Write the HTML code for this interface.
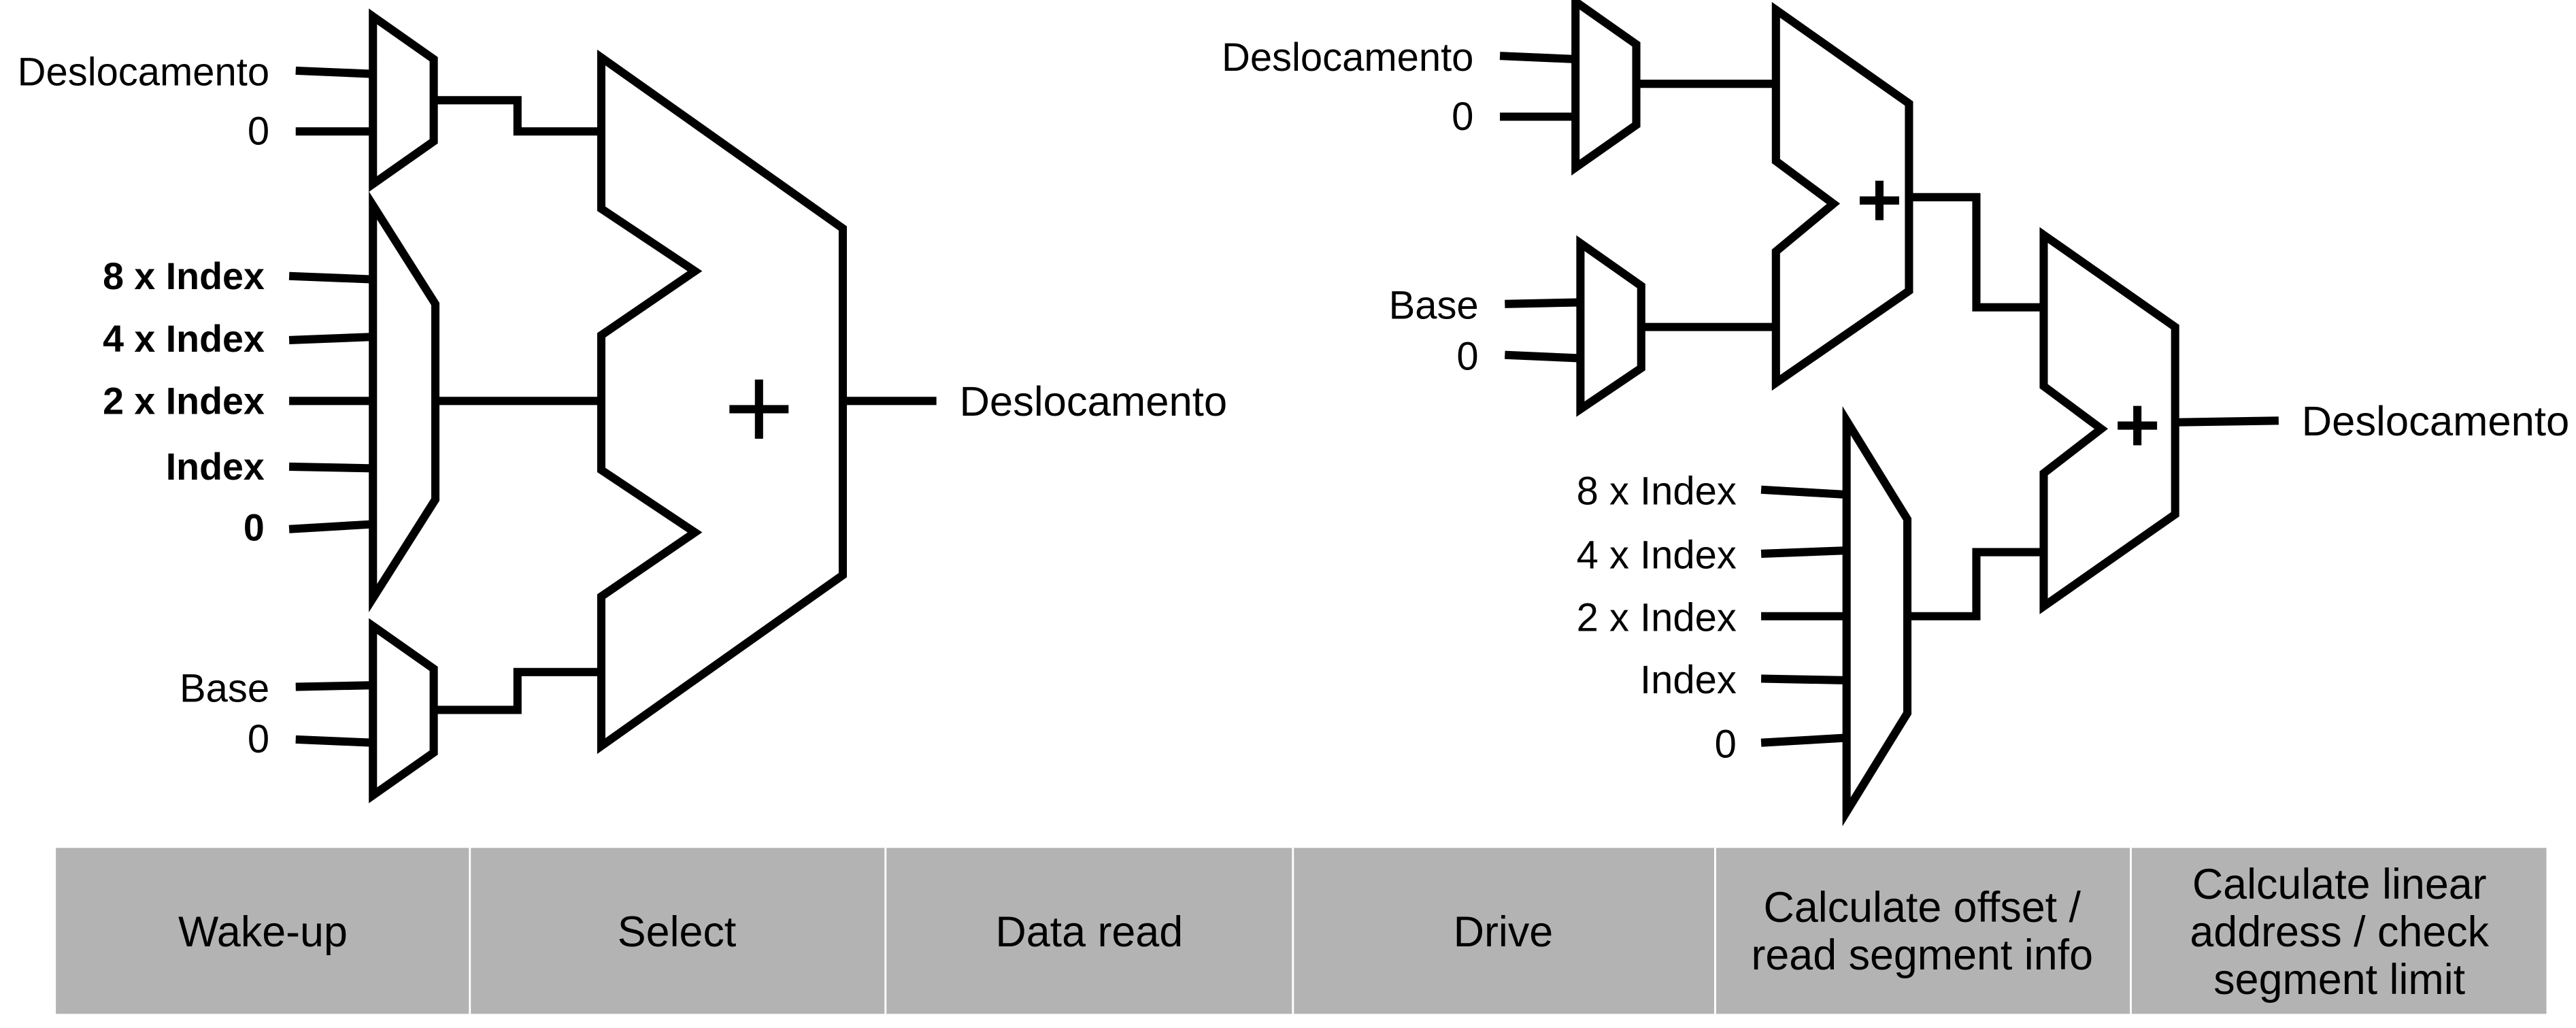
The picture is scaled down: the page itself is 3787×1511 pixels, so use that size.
<!DOCTYPE html>
<html><head><meta charset="utf-8"><style>
html,body{margin:0;padding:0;background:#fff;}
svg{display:block;}
text{font-family:"Liberation Sans",sans-serif;fill:#000;}
</style></head><body>
<svg width="3787" height="1511" viewBox="0 0 1568 625.6" preserveAspectRatio="none" xmlns="http://www.w3.org/2000/svg">
<g fill="none" stroke="#000" stroke-width="5" stroke-linejoin="miter">
<!-- Left diagram -->
<polygon points="227,10 264,36 264,86 227,112"/>
<line x1="180" y1="43" x2="227" y2="45"/>
<line x1="180" y1="80" x2="227" y2="80"/>
<polyline points="264,61 315,61 315,80 366,80"/>
<polygon points="366,35 513,139 513,350 366,454 366,363 423,324 366,286 366,204 423,165 366,127"/>
<line x1="513" y1="244" x2="570" y2="244"/>
<polygon points="227,125 265,185 265,304 227,364"/>
<line x1="176" y1="168" x2="227" y2="170"/>
<line x1="176" y1="207" x2="227" y2="205"/>
<line x1="176" y1="244" x2="227" y2="244"/>
<line x1="176" y1="284" x2="227" y2="285"/>
<line x1="176" y1="322" x2="227" y2="319"/>
<line x1="265" y1="244" x2="366" y2="244"/>
<polygon points="227,381 264,407 264,458 227,484"/>
<line x1="180" y1="418" x2="227" y2="417"/>
<line x1="180" y1="450" x2="227" y2="452"/>
<polyline points="264,432 315,432 315,409 366,409"/>
<line x1="444" y1="249" x2="480" y2="249"/>
<line x1="462" y1="231" x2="462" y2="267"/>
<!-- Right diagram -->
<polygon points="959,1 996,27 996,76 959,102"/>
<line x1="913" y1="34" x2="959" y2="36"/>
<line x1="913" y1="71" x2="959" y2="71"/>
<line x1="996" y1="51" x2="1081" y2="51"/>
<polygon points="1081,6 1162,63 1162,177 1081,233 1081,153 1116,124 1081,98"/>
<line x1="1132" y1="122" x2="1156" y2="122"/>
<line x1="1144" y1="110" x2="1144" y2="134"/>
<polyline points="1162,120 1203,120 1203,187 1244,187"/>
<polygon points="962,148 999,174 999,224 962,249"/>
<line x1="916" y1="185" x2="962" y2="184"/>
<line x1="916" y1="216" x2="962" y2="218"/>
<line x1="999" y1="199" x2="1081" y2="199"/>
<polygon points="1244,143 1324,199 1324,313 1244,369 1244,288 1279,261 1244,235"/>
<line x1="1289" y1="259" x2="1313" y2="259"/>
<line x1="1301" y1="247" x2="1301" y2="271"/>
<line x1="1324" y1="257" x2="1387" y2="256"/>
<polygon points="1124,256 1161,316 1161,434 1124,494"/>
<line x1="1072" y1="298" x2="1124" y2="301"/>
<line x1="1072" y1="337" x2="1124" y2="335"/>
<line x1="1072" y1="375" x2="1124" y2="375"/>
<line x1="1072" y1="413" x2="1124" y2="414"/>
<line x1="1072" y1="452" x2="1124" y2="449"/>
<polyline points="1161,375 1203,375 1203,336 1244,336"/>
</g>
<g font-size="24" text-anchor="end">
<text x="164" y="52">Deslocamento</text>
<text x="164" y="88">0</text>
<g font-weight="bold" font-size="23">
<text x="161" y="176">8 x Index</text>
<text x="161" y="214">4 x Index</text>
<text x="161" y="252">2 x Index</text>
<text x="161" y="292">Index</text>
<text x="161" y="329">0</text>
</g>
<text x="164" y="427">Base</text>
<text x="164" y="458">0</text>
<text x="897" y="43">Deslocamento</text>
<text x="897" y="79">0</text>
<text x="900" y="194">Base</text>
<text x="900" y="225">0</text>
<text x="1057" y="307">8 x Index</text>
<text x="1057" y="346">4 x Index</text>
<text x="1057" y="384">2 x Index</text>
<text x="1057" y="422">Index</text>
<text x="1057" y="461">0</text>
</g>
<g font-size="25.5">
<text x="584" y="253">Deslocamento</text>
<text x="1401" y="265">Deslocamento</text>
</g>
<!-- Table -->
<rect x="34" y="516" width="1516" height="101" fill="#b3b3b3"/>
<g stroke="#fff" stroke-width="1.2">
<line x1="286" y1="516" x2="286" y2="617"/>
<line x1="539" y1="516" x2="539" y2="617"/>
<line x1="787" y1="516" x2="787" y2="617"/>
<line x1="1044" y1="516" x2="1044" y2="617"/>
<line x1="1297" y1="516" x2="1297" y2="617"/>
</g>
<g font-size="26" text-anchor="middle">
<text x="160" y="576">Wake-up</text>
<text x="412" y="576">Select</text>
<text x="663" y="576">Data read</text>
<text x="915" y="576">Drive</text>
<text x="1170" y="561">Calculate offset /</text>
<text x="1170" y="590">read segment info</text>
<text x="1424" y="547">Calculate linear</text>
<text x="1424" y="576">address / check</text>
<text x="1424" y="605">segment limit</text>
</g>
</svg>
</body></html>
